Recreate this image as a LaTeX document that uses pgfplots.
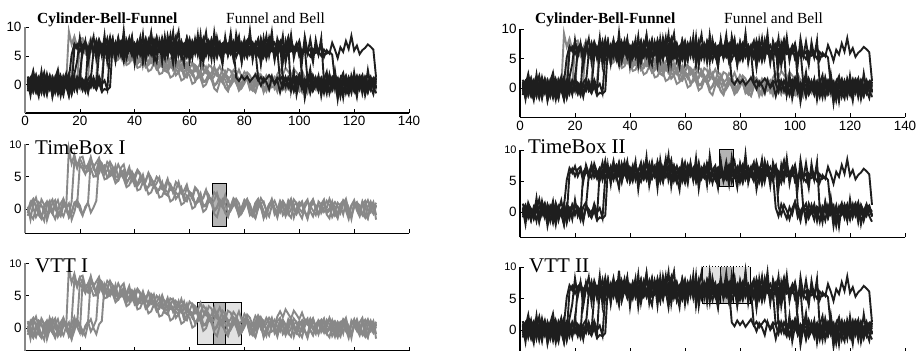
\documentclass[border=0pt]{standalone}
\usepackage{fontspec}
\setmainfont{Liberation Serif}
\newfontfamily\tickfont{Liberation Sans}
\usepackage{pgfplots}
\usepackage{pgfplotstable}
\pgfplotsset{compat=1.18}
\definecolor{cgray}{RGB}{136,136,136}
\definecolor{cblk}{RGB}{30,30,30}
\definecolor{boxdark}{RGB}{180,180,180}
\definecolor{boxlight}{RGB}{226,226,226}

% ---- gray series (funnel-like) ----
\pgfplotstableread[row sep=\\]{y\\
0.4\\ -1.6\\ 0.9\\ 1.8\\ 0.2\\ -0.9\\ -1.8\\ 0.6\\ 1.3\\ -0.4\\
0.8\\ -1.2\\ -0.3\\ 1.5\\ 0.1\\ 9.3\\ 7.0\\ 8.4\\ 6.6\\ 7.9\\
8.1\\ 6.4\\ 6.9\\ 8.0\\ 6.1\\ 5.9\\ 7.6\\ 7.1\\ 5.4\\ 6.0\\
7.3\\ 6.5\\ 5.1\\ 4.9\\ 6.4\\ 6.9\\ 5.0\\ 5.8\\ 4.3\\ 5.2\\
6.1\\ 5.5\\ 3.9\\ 4.2\\ 5.6\\ 4.8\\ 3.4\\ 4.0\\ 4.9\\ 3.1\\
2.8\\ 4.3\\ 3.9\\ 2.5\\ 3.0\\ 4.2\\ 2.7\\ 1.9\\ 3.3\\ 2.4\\
1.6\\ 3.1\\ 2.8\\ 1.2\\ 1.7\\ 2.9\\ 2.2\\ 0.8\\ 1.4\\ 2.5\\
1.0\\ 0.3\\ 1.8\\ 1.3\\ -0.2\\ 0.6\\ 1.6\\ 0.9\\ -0.6\\ 0.2\\
1.4\\ 0.8\\ -0.5\\ -1.3\\ 0.4\\ 1.7\\ 0.9\\ -0.2\\ 0.3\\ 1.1\\
-0.8\\ -0.1\\ 1.3\\ 0.5\\ -1.0\\ 0.7\\ 1.6\\ 0.0\\ -0.7\\ 0.6\\
1.2\\ -0.4\\ -1.5\\ 0.2\\ 1.0\\ 0.4\\ -0.9\\ 0.8\\ 1.5\\ -0.3\\
0.1\\ 1.2\\ -0.6\\ -1.4\\ 0.5\\ 1.1\\ 0.3\\ -0.8\\ 0.6\\ 1.4\\
-0.2\\ -1.1\\ 0.7\\ 1.3\\ 0.0\\ -0.5\\ 0.9\\ -1.6\\
}\Ga
\pgfplotstableread[row sep=\\]{y\\
-0.6\\ 1.1\\ 0.3\\ -1.2\\ -0.4\\ 1.5\\ 0.7\\ -1.7\\ -0.2\\ 0.9\\
1.4\\ -0.5\\ -1.1\\ 0.6\\ 0.2\\ -0.9\\ 1.2\\ 7.6\\ 6.3\\ 7.8\\
6.9\\ 5.6\\ 5.9\\ 7.4\\ 6.8\\ 5.1\\ 5.5\\ 6.9\\ 6.4\\ 4.8\\
5.2\\ 6.3\\ 4.6\\ 4.4\\ 5.9\\ 5.4\\ 3.9\\ 4.8\\ 5.3\\ 3.6\\
3.9\\ 5.0\\ 4.4\\ 3.0\\ 3.4\\ 4.6\\ 3.8\\ 2.6\\ 3.0\\ 4.0\\
2.4\\ 2.1\\ 3.5\\ 3.0\\ 1.6\\ 2.2\\ 3.3\\ 1.4\\ 1.2\\ 2.7\\
2.3\\ 0.9\\ 1.3\\ 2.4\\ 0.5\\ 0.8\\ 1.9\\ 1.5\\ -0.2\\ 0.4\\
1.5\\ 0.9\\ -0.4\\ -1.1\\ 0.3\\ 1.2\\ 0.6\\ -0.7\\ 0.1\\ 1.4\\
0.8\\ -0.9\\ -0.3\\ 1.0\\ 1.6\\ 0.2\\ -1.2\\ -0.5\\ 0.7\\ 1.1\\
-0.1\\ -1.3\\ 0.4\\ 1.3\\ 0.6\\ -0.8\\ 0.0\\ 1.5\\ 0.9\\ -0.6\\
-1.4\\ 0.3\\ 1.1\\ 0.5\\ -0.2\\ -0.9\\ 1.2\\ 0.7\\ -0.4\\ 0.2\\
1.6\\ 0.4\\ -1.0\\ -0.5\\ 0.8\\ 1.3\\ -0.2\\ -1.5\\ 0.6\\ 1.0\\
0.1\\ -0.8\\ 1.2\\ 0.5\\ -1.2\\ 0.3\\ 1.1\\ -0.9\\
}\Gb
\pgfplotstableread[row sep=\\]{y\\
0.9\\ -0.5\\ -1.3\\ 0.4\\ 1.2\\ 0.7\\ -0.8\\ -0.2\\ 1.6\\ 0.3\\
-1.2\\ -0.4\\ 0.8\\ 1.3\\ -0.1\\ -0.9\\ 0.5\\ 1.7\\ 0.2\\ -0.7\\
7.2\\ 6.0\\ 5.5\\ 7.0\\ 6.7\\ 5.2\\ 5.8\\ 7.1\\ 6.2\\ 4.9\\
5.3\\ 6.6\\ 5.9\\ 4.5\\ 4.9\\ 6.2\\ 5.5\\ 4.2\\ 5.0\\ 5.9\\
4.1\\ 3.9\\ 5.3\\ 4.8\\ 3.5\\ 4.1\\ 5.2\\ 3.6\\ 3.3\\ 4.7\\
4.2\\ 2.9\\ 3.4\\ 4.5\\ 3.7\\ 2.6\\ 3.1\\ 4.1\\ 2.4\\ 2.7\\
3.8\\ 3.3\\ 1.9\\ 2.3\\ 3.5\\ 2.9\\ 1.6\\ 2.1\\ 3.2\\ 1.5\\
1.3\\ 2.7\\ 2.2\\ 0.9\\ 1.4\\ 2.5\\ 1.9\\ 0.6\\ 1.1\\ 2.2\\
1.5\\ 0.3\\ 0.7\\ 1.9\\ 1.2\\ -0.1\\ 0.4\\ 1.6\\ 0.8\\ -0.5\\
-0.2\\ 1.1\\ 1.6\\ 0.4\\ -0.9\\ 0.2\\ 1.3\\ 0.7\\ -0.6\\ -1.2\\
0.5\\ 1.4\\ 0.9\\ -0.3\\ -1.0\\ 0.6\\ 1.2\\ 0.1\\ -0.7\\ 0.8\\
1.5\\ -0.1\\ -1.3\\ 0.3\\ 1.0\\ 0.6\\ -0.5\\ -0.9\\ 1.2\\ 0.4\\
-0.4\\ 0.9\\ 1.6\\ -0.2\\ -1.1\\ 0.5\\ 0.2\\ 0.8\\
}\Gc
\pgfplotstableread[row sep=\\]{y\\
-0.2\\ 1.0\\ 1.6\\ 0.3\\ -0.9\\ -1.5\\ 0.5\\ 1.2\\ -0.1\\ -0.7\\
0.6\\ 1.4\\ -0.3\\ -1.1\\ 0.2\\ 0.9\\ -1.6\\ -0.4\\ 1.3\\ 0.6\\
-0.8\\ 0.1\\ 1.1\\ 7.8\\ 6.5\\ 7.2\\ 7.9\\ 6.0\\ 5.9\\ 7.3\\
6.8\\ 5.3\\ 5.7\\ 6.9\\ 5.9\\ 4.8\\ 5.4\\ 6.5\\ 4.7\\ 4.6\\
5.8\\ 5.3\\ 4.0\\ 4.5\\ 5.5\\ 3.7\\ 3.9\\ 5.0\\ 4.5\\ 3.2\\
3.6\\ 4.7\\ 3.0\\ 2.8\\ 4.2\\ 3.7\\ 2.4\\ 2.9\\ 3.8\\ 2.1\\
2.0\\ 3.4\\ 2.9\\ 1.5\\ 1.9\\ 3.0\\ 1.2\\ 1.4\\ 2.6\\ 2.1\\
0.7\\ 1.0\\ 2.2\\ 0.4\\ 0.5\\ 1.7\\ 1.2\\ -0.2\\ 0.3\\ 1.4\\
0.8\\ -0.6\\ -1.1\\ 0.4\\ 1.3\\ 0.9\\ -0.3\\ -1.2\\ 0.5\\ 1.6\\
0.2\\ -0.5\\ 1.0\\ -0.9\\ -0.2\\ 1.4\\ 0.7\\ -1.3\\ 0.1\\ 1.1\\
0.6\\ -0.4\\ -1.0\\ 0.9\\ 1.5\\ 0.3\\ -0.7\\ 0.0\\ 1.2\\ -0.8\\
-1.4\\ 0.5\\ 1.1\\ 0.4\\ -0.6\\ 0.8\\ 1.6\\ -0.2\\ -1.0\\ 0.3\\
1.0\\ 0.6\\ -0.7\\ -1.3\\ 0.4\\ 1.2\\ -0.1\\ 0.7\\
}\Gd
\pgfplotstableread[row sep=\\]{y\\
0.3\\ -0.9\\ -1.5\\ 0.2\\ 1.1\\ 0.6\\ -0.4\\ -1.2\\ 0.8\\ 1.5\\
0.1\\ -0.7\\ -0.2\\ 1.2\\ 0.5\\ -1.3\\ -0.6\\ 0.9\\ 1.4\\ -0.1\\
-1.0\\ 0.4\\ 1.0\\ -0.5\\ 0.3\\ 1.3\\ 7.3\\ 5.9\\ 6.8\\ 6.6\\
5.1\\ 5.4\\ 6.7\\ 4.8\\ 5.6\\ 6.0\\ 4.3\\ 4.7\\ 5.8\\ 4.9\\
3.6\\ 4.2\\ 5.3\\ 3.4\\ 3.5\\ 4.7\\ 4.1\\ 2.7\\ 3.2\\ 4.2\\
2.4\\ 2.3\\ 3.7\\ 3.1\\ 1.7\\ 2.1\\ 3.2\\ 1.4\\ 1.3\\ 2.6\\
2.2\\ 0.7\\ 1.1\\ 2.3\\ 0.4\\ 0.5\\ 1.7\\ 1.2\\ -0.3\\ 0.2\\
1.3\\ 0.7\\ -0.6\\ -1.2\\ 0.5\\ 1.1\\ 0.2\\ -0.9\\ -0.3\\ 1.0\\
1.6\\ 0.4\\ -0.8\\ -1.4\\ 0.1\\ 0.9\\ 1.2\\ -0.2\\ -1.1\\ 0.6\\
1.3\\ 0.2\\ -0.5\\ 0.8\\ -1.0\\ -0.2\\ 1.4\\ 0.5\\ -0.7\\ 0.3\\
1.1\\ -0.4\\ -1.3\\ 0.6\\ 1.5\\ 0.0\\ -0.8\\ 0.7\\ 1.2\\ -0.6\\
-0.2\\ 1.0\\ 0.4\\ -1.2\\ 0.3\\ 1.4\\ 0.8\\ -0.5\\ -1.0\\ 0.9\\
0.5\\ -0.3\\ 1.1\\ -0.9\\ -1.5\\ 0.6\\ 0.2\\ 1.0\\
}\Ge
\pgfplotstableread[row sep=\\]{y\\
1.1\\ 0.2\\ -0.8\\ -1.4\\ 0.5\\ 1.3\\ 0.6\\ -1.0\\ -0.3\\ 0.8\\
1.5\\ -0.2\\ -1.1\\ 0.4\\ 0.9\\ -0.6\\ -1.7\\ 0.3\\ 1.2\\ 0.5\\
-0.4\\ -1.2\\ 0.7\\ 1.4\\ 0.0\\ -0.9\\ 0.6\\ 1.1\\ 6.7\\ 5.5\\
5.0\\ 6.4\\ 6.1\\ 4.7\\ 5.2\\ 6.3\\ 4.9\\ 4.4\\ 5.8\\ 5.5\\
4.1\\ 4.6\\ 5.7\\ 4.3\\ 3.9\\ 5.3\\ 4.8\\ 3.5\\ 4.0\\ 5.1\\
3.8\\ 3.2\\ 4.6\\ 4.3\\ 2.9\\ 3.3\\ 4.5\\ 3.0\\ 2.7\\ 4.1\\
3.6\\ 2.3\\ 2.8\\ 3.9\\ 2.5\\ 2.0\\ 3.4\\ 3.0\\ 1.7\\ 2.2\\
3.2\\ 2.0\\ 1.4\\ 2.7\\ 2.4\\ 1.0\\ 1.5\\ 2.6\\ 1.3\\ 0.8\\
2.1\\ 1.6\\ 0.4\\ 1.0\\ 2.0\\ 1.3\\ 0.1\\ 0.7\\ 1.6\\ 0.9\\
0.3\\ 1.8\\ 2.6\\ 1.7\\ 2.9\\ 2.2\\ 1.5\\ 2.7\\ 2.1\\ 1.4\\
2.4\\ 1.2\\ 0.6\\ 1.5\\ 0.3\\ -0.5\\ 0.8\\ 1.3\\ -0.2\\ -0.9\\
0.4\\ 1.2\\ 0.7\\ -0.6\\ -1.3\\ 0.5\\ 1.0\\ 0.2\\ -0.8\\ 0.6\\
1.4\\ -0.1\\ -1.0\\ 0.3\\ 0.9\\ 0.5\\ -0.6\\ 0.2\\
}\Gf
\pgfplotstableread[row sep=\\]{y\\
-1.0\\ 0.4\\ 1.4\\ 0.6\\ -0.5\\ -1.3\\ 0.2\\ 1.1\\ 0.8\\ -0.6\\
-1.5\\ 0.0\\ 0.9\\ 1.6\\ 0.3\\ -0.8\\ -0.4\\ 1.0\\ 0.5\\ 7.0\\
6.2\\ 5.4\\ 6.8\\ 6.3\\ 5.0\\ 5.2\\ 6.5\\ 5.9\\ 4.6\\ 4.8\\
5.9\\ 5.3\\ 4.0\\ 4.4\\ 5.4\\ 4.7\\ 3.4\\ 3.7\\ 4.8\\ 4.3\\
2.9\\ 3.1\\ 4.2\\ 3.6\\ 2.3\\ 2.6\\ 3.7\\ 3.2\\ 1.8\\ 2.0\\
3.1\\ 2.6\\ 1.2\\ 1.5\\ 2.6\\ 2.1\\ 0.7\\ 1.0\\ 2.1\\ 1.6\\
0.1\\ 0.4\\ 1.6\\ 1.1\\ -0.4\\ 0.0\\ 1.3\\ 0.9\\ -0.7\\ -1.2\\
0.4\\ 1.5\\ 0.8\\ -0.5\\ -0.1\\ 1.2\\ 0.6\\ -1.1\\ -0.6\\ 0.9\\
1.4\\ 0.2\\ -0.9\\ -0.3\\ 1.1\\ 0.7\\ -1.4\\ -0.2\\ 0.8\\ 1.3\\
0.0\\ -1.0\\ 0.5\\ 1.2\\ 0.3\\ -0.7\\ -1.3\\ 0.6\\ 1.0\\ 0.1\\
-0.5\\ 0.9\\ 1.5\\ -0.3\\ -1.1\\ 0.4\\ 0.8\\ -0.6\\ 0.2\\ 1.3\\
0.6\\ -1.2\\ -0.4\\ 1.0\\ 0.5\\ -0.8\\ 1.2\\ 0.3\\ -1.5\\ 0.7\\
1.1\\ -0.2\\ -0.9\\ 0.6\\ 1.4\\ 0.1\\ -0.7\\ 0.5\\
}\Gg

% ---- black series (cylinder-like) ----
\pgfplotstableread[row sep=\\]{y\\
0.8\\ -0.6\\ 1.2\\ 0.3\\ -1.1\\ 0.5\\ 2.1\\ -0.4\\ 0.9\\ -1.5\\
0.2\\ 1.4\\ -0.8\\ 0.6\\ -0.3\\ 1.0\\ 5.2\\ 7.1\\ 6.3\\ 7.4\\
5.8\\ 6.9\\ 4.9\\ 7.6\\ 6.2\\ 5.5\\ 7.8\\ 6.4\\ 5.1\\ 6.8\\
7.3\\ 5.6\\ 6.1\\ 8.2\\ 5.4\\ 6.7\\ 4.8\\ 7.0\\ 6.3\\ 5.9\\
7.5\\ 5.2\\ 6.6\\ 8.0\\ 5.7\\ 6.4\\ 4.6\\ 7.2\\ 6.0\\ 5.3\\
7.7\\ 6.2\\ 5.6\\ 6.9\\ 8.4\\ 5.1\\ 6.5\\ 7.1\\ 4.9\\ 6.3\\
7.4\\ 5.8\\ 6.6\\ 5.0\\ 7.3\\ 6.1\\ 5.5\\ 7.9\\ 6.4\\ 4.7\\
6.8\\ 7.2\\ 5.6\\ 6.0\\ 8.1\\ 5.4\\ 6.7\\ 5.9\\ 7.0\\ 4.8\\
6.5\\ 7.6\\ 5.3\\ 6.2\\ 7.4\\ 5.7\\ 6.9\\ 4.5\\ 6.3\\ 7.8\\
5.6\\ 6.4\\ 7.1\\ 5.0\\ 6.6\\ 8.3\\ 5.8\\ 6.1\\ 7.2\\ 4.9\\
5.6\\ 6.8\\ 5.3\\ 7.9\\ 5.0\\ 6.4\\ 5.2\\ 7.1\\ 4.8\\ 6.0\\
5.4\\ 7.3\\ 6.1\\ 4.6\\ 6.5\\ 5.7\\ 7.6\\ 6.2\\ 8.5\\ 5.9\\
6.8\\ 5.3\\ 6.0\\ 6.4\\ 7.0\\ 6.6\\ 6.1\\ 1.2\\
}\Ba
\pgfplotstableread[row sep=\\]{y\\
-0.5\\ 1.1\\ 0.2\\ -1.3\\ 0.7\\ 1.6\\ -0.2\\ 0.4\\ -0.9\\ 1.3\\
0.1\\ -1.7\\ 0.8\\ 0.3\\ 1.9\\ -0.6\\ 0.5\\ -1.0\\ 1.2\\ 0.0\\
0.6\\ -0.8\\ 6.4\\ 7.2\\ 5.5\\ 6.8\\ 7.5\\ 5.9\\ 6.2\\ 8.0\\
5.3\\ 6.6\\ 7.0\\ 5.8\\ 6.3\\ 7.7\\ 5.1\\ 6.5\\ 6.9\\ 5.6\\
7.2\\ 6.0\\ 4.9\\ 6.8\\ 7.4\\ 5.5\\ 6.2\\ 8.1\\ 5.7\\ 6.4\\
5.0\\ 7.0\\ 6.3\\ 5.8\\ 7.6\\ 6.1\\ 4.8\\ 6.7\\ 7.3\\ 5.4\\
6.2\\ 7.8\\ 5.9\\ 6.5\\ 4.6\\ 7.1\\ 6.0\\ 5.7\\ 8.0\\ 6.3\\
5.2\\ 6.9\\ 7.4\\ 5.8\\ 6.1\\ 4.9\\ 7.2\\ 6.6\\ 5.5\\ 6.8\\
7.7\\ 5.3\\ 6.4\\ 6.0\\ 5.0\\ 7.3\\ 6.7\\ 5.6\\ 8.2\\ 6.1\\
5.4\\ 6.9\\ 7.5\\ 5.9\\ 4.7\\ 6.5\\ 7.0\\ 5.8\\ 6.3\\ 7.6\\
5.2\\ 6.4\\ 0.8\\ -0.7\\ 1.4\\ 0.2\\ -1.2\\ 0.9\\ 0.4\\ -0.5\\
1.6\\ -0.9\\ 0.3\\ 1.1\\ -1.8\\ 0.6\\ -0.2\\ 1.3\\ 0.0\\ -1.0\\
0.7\\ 1.5\\ -0.4\\ 0.9\\ -1.3\\ 0.5\\ 1.0\\ -0.6\\
}\Bb
\pgfplotstableread[row sep=\\]{y\\
1.4\\ -0.3\\ 0.6\\ -1.2\\ 0.9\\ 0.1\\ -0.7\\ 1.8\\ -0.2\\ 0.5\\
-1.4\\ 0.8\\ 1.2\\ -0.5\\ 0.3\\ -1.9\\ 1.0\\ 0.4\\ -0.8\\ 1.5\\
-0.1\\ 0.7\\ -1.1\\ 0.9\\ 5.9\\ 7.3\\ 6.6\\ 5.4\\ 7.0\\ 6.1\\
8.3\\ 5.7\\ 6.4\\ 5.2\\ 7.1\\ 6.8\\ 5.5\\ 6.0\\ 7.9\\ 5.3\\
6.6\\ 7.2\\ 5.8\\ 4.9\\ 6.5\\ 7.6\\ 6.2\\ 5.4\\ 6.9\\ 7.3\\
5.6\\ 6.0\\ 8.6\\ 5.1\\ 6.7\\ 6.3\\ 7.4\\ 5.5\\ 6.1\\ 4.7\\
7.0\\ 6.5\\ 5.9\\ 7.8\\ 5.3\\ 6.4\\ 6.9\\ 5.0\\ 7.5\\ 6.2\\
5.7\\ 6.6\\ 7.9\\ 5.2\\ 6.3\\ 7.0\\ 4.8\\ 6.1\\ 7.3\\ 5.8\\
6.5\\ 5.4\\ 7.2\\ 6.0\\ 5.6\\ 8.1\\ 6.4\\ 5.1\\ 6.8\\ 7.1\\
5.5\\ 6.3\\ 7.4\\ 0.9\\ -0.4\\ 1.2\\ 0.3\\ -1.1\\ 0.6\\ 1.7\\
-0.8\\ 0.2\\ 1.0\\ -1.5\\ 0.5\\ -0.1\\ 1.3\\ -0.9\\ 0.7\\ 0.1\\
-1.3\\ 1.1\\ -0.3\\ 0.8\\ -2.1\\ 0.4\\ 1.5\\ -0.6\\ 0.2\\ -1.2\\
0.9\\ -0.2\\ 1.4\\ 0.0\\ -0.9\\ 0.6\\ 1.1\\ -0.7\\
}\Bc
\pgfplotstableread[row sep=\\]{y\\
0.2\\ -1.0\\ 1.3\\ 0.6\\ -0.4\\ 1.7\\ -1.3\\ 0.1\\ 0.8\\ -0.6\\
1.1\\ 0.3\\ -2.0\\ 0.7\\ -0.1\\ 1.4\\ -0.9\\ 0.5\\ 1.0\\ -0.3\\
0.4\\ -1.2\\ 0.9\\ 1.6\\ -0.5\\ 0.2\\ 0.7\\ -0.8\\ 6.7\\ 5.6\\
7.4\\ 6.1\\ 5.3\\ 6.9\\ 7.6\\ 5.8\\ 6.2\\ 8.1\\ 5.5\\ 6.6\\
5.0\\ 7.0\\ 6.4\\ 5.7\\ 7.8\\ 6.1\\ 5.4\\ 6.8\\ 7.2\\ 5.9\\
6.3\\ 4.8\\ 7.5\\ 6.0\\ 5.6\\ 6.9\\ 7.3\\ 5.2\\ 6.5\\ 8.0\\
5.8\\ 6.2\\ 7.1\\ 4.9\\ 6.7\\ 5.5\\ 7.6\\ 6.3\\ 5.9\\ 6.8\\
7.5\\ 5.1\\ 6.4\\ 6.0\\ 7.2\\ 5.6\\ 6.9\\ 8.2\\ 5.3\\ 6.1\\
4.7\\ 6.6\\ 7.3\\ 5.8\\ 6.2\\ 7.0\\ 5.4\\ 6.5\\ 7.7\\ 5.9\\
6.3\\ 5.0\\ 7.1\\ 6.6\\ 5.7\\ 8.0\\ 6.1\\ 5.5\\ 6.8\\ 7.2\\
1.1\\ -0.3\\ 0.6\\ 1.4\\ -0.9\\ 0.2\\ 0.8\\ -1.4\\ 1.2\\ -0.1\\
0.5\\ -0.7\\ 1.8\\ 0.3\\ -1.1\\ 0.9\\ -0.4\\ 0.1\\ 1.3\\ -0.8\\
0.4\\ 1.0\\ -1.6\\ 0.7\\ -0.2\\ 1.2\\ 0.3\\ -0.5\\
}\Bd
\pgfplotstableread[row sep=\\]{y\\
-0.8\\ 0.4\\ 1.0\\ -0.2\\ 0.6\\ -1.4\\ 0.9\\ 1.3\\ -0.5\\ 0.2\\
0.7\\ -1.0\\ 1.5\\ 0.1\\ -0.6\\ 0.8\\ -1.7\\ 0.3\\ 1.2\\ -0.4\\
0.9\\ 0.2\\ -0.9\\ 1.1\\ 0.5\\ -0.3\\ 1.4\\ 0.0\\ 0.7\\ -0.9\\
5.7\\ 6.8\\ 7.2\\ 5.5\\ 6.3\\ 7.9\\ 5.9\\ 6.6\\ 5.2\\ 7.0\\
6.1\\ 7.5\\ 5.6\\ 6.4\\ 6.9\\ 5.3\\ 7.3\\ 6.0\\ 5.8\\ 8.2\\
6.5\\ 5.1\\ 6.7\\ 7.4\\ 5.9\\ 6.2\\ 4.9\\ 7.1\\ 6.8\\ 5.4\\
7.6\\ 6.3\\ 5.7\\ 6.0\\ 8.0\\ 5.5\\ 6.6\\ 7.2\\ 5.0\\ 6.4\\
6.9\\ 5.8\\ 7.4\\ 6.1\\ 5.3\\ 6.7\\ 7.0\\ 5.6\\ 6.3\\ 7.8\\
5.2\\ 6.5\\ 6.0\\ 7.3\\ 5.7\\ 6.8\\ 4.8\\ 6.2\\ 7.5\\ 6.0\\
5.5\\ 7.0\\ 6.4\\ 5.8\\ 6.9\\ 5.1\\ 7.6\\ 6.3\\ 5.9\\ 6.6\\
5.3\\ 6.0\\ 5.6\\ 4.9\\ 6.2\\ 5.5\\ 5.8\\ 5.0\\ 6.1\\ 5.4\\
5.7\\ 5.2\\ 0.6\\ -0.5\\ 1.1\\ -1.2\\ 0.3\\ 0.9\\ -0.7\\ 1.4\\
-0.1\\ 0.6\\ -1.0\\ 1.2\\ 0.2\\ -0.6\\ 0.8\\ 0.1\\
}\Be
\pgfplotstableread[row sep=\\]{y\\
0.5\\ 1.2\\ -0.9\\ 0.3\\ -0.2\\ 1.0\\ -1.6\\ 0.6\\ 1.5\\ -0.4\\
0.1\\ -0.8\\ 0.9\\ -1.3\\ 0.4\\ 1.1\\ -0.5\\ 6.2\\ 7.0\\ 5.8\\
6.9\\ 7.3\\ 5.4\\ 6.5\\ 6.1\\ 7.7\\ 5.6\\ 6.3\\ 7.1\\ 5.2\\
6.8\\ 6.0\\ 7.4\\ 5.7\\ 6.2\\ 8.0\\ 5.9\\ 6.5\\ 5.1\\ 7.2\\
6.3\\ 5.6\\ 7.0\\ 6.7\\ 5.3\\ 6.1\\ 7.8\\ 5.5\\ 6.4\\ 6.9\\
5.0\\ 7.3\\ 6.2\\ 5.8\\ 6.6\\ 7.5\\ 5.4\\ 6.0\\ 8.1\\ 5.7\\
6.5\\ 6.9\\ 5.2\\ 7.1\\ 6.3\\ 5.6\\ 6.8\\ 7.4\\ 5.9\\ 6.1\\
5.5\\ 7.0\\ 6.4\\ 5.1\\ 6.7\\ 7.6\\ 5.8\\ 6.2\\ 6.9\\ 5.3\\
7.2\\ 6.0\\ 5.6\\ 6.6\\ 7.9\\ 5.4\\ 6.3\\ 7.0\\ 5.7\\ 6.5\\
7.3\\ 5.9\\ 0.7\\ -0.6\\ 1.3\\ 0.1\\ -1.0\\ 0.8\\ -0.3\\ 1.6\\
0.2\\ -1.4\\ 0.9\\ 0.4\\ -0.7\\ 1.2\\ -0.2\\ 0.6\\ -1.5\\ 1.0\\
0.3\\ -0.8\\ 1.4\\ -2.2\\ 0.5\\ 0.0\\ 1.1\\ -0.9\\ 0.7\\ -0.3\\
1.3\\ -0.6\\ 0.4\\ 0.9\\ -1.1\\ 0.2\\ 0.8\\ -0.4\\
}\Bf
\pgfplotstableread[row sep=\\]{y\\
-0.3\\ 0.9\\ -1.2\\ 0.6\\ 1.4\\ -0.7\\ 0.2\\ -1.8\\ 1.0\\ 0.4\\
-0.5\\ 1.3\\ 0.0\\ -1.1\\ 0.7\\ 1.9\\ -0.4\\ 0.5\\ -0.9\\ 1.2\\
6.6\\ 7.5\\ 6.0\\ 7.2\\ 5.7\\ 6.4\\ 5.3\\ 7.0\\ 6.8\\ 5.9\\
6.3\\ 7.6\\ 5.5\\ 6.1\\ 6.9\\ 5.0\\ 7.4\\ 6.2\\ 5.8\\ 6.7\\
7.1\\ 5.4\\ 6.5\\ 8.0\\ 5.9\\ 6.3\\ 5.2\\ 6.8\\ 7.3\\ 5.6\\
6.0\\ 6.6\\ 7.7\\ 5.3\\ 6.4\\ 5.8\\ 7.0\\ 6.1\\ 5.5\\ 7.4\\
6.2\\ 5.7\\ 6.9\\ 7.2\\ 5.1\\ 6.5\\ 6.0\\ 7.8\\ 5.6\\ 6.3\\
6.7\\ 5.4\\ 7.1\\ 6.2\\ 5.9\\ 6.6\\ 1.2\\ 0.6\\ 1.5\\ 0.8\\
1.4\\ 0.5\\ 1.1\\ 1.7\\ 0.7\\ 1.3\\ 0.4\\ 1.0\\ 1.6\\ 0.9\\
0.3\\ 1.2\\ 0.8\\ 1.5\\ 0.6\\ 1.1\\ 0.2\\ 0.9\\ 1.4\\ 0.5\\
1.0\\ -0.3\\ 0.7\\ 1.3\\ -0.6\\ 0.8\\ 0.2\\ 1.1\\ -0.9\\ 0.6\\
1.4\\ -0.4\\ 0.3\\ 0.9\\ -1.3\\ 0.5\\ 1.2\\ -0.2\\ 0.7\\ -0.8\\
1.0\\ 0.4\\ -0.5\\ 1.3\\ 0.1\\ -1.0\\ 0.6\\ 1.5\\
}\Bg
\pgfplotstableread[row sep=\\]{y\\
1.0\\ -0.4\\ 0.3\\ 1.6\\ -1.1\\ 0.7\\ 0.0\\ -0.6\\ 1.3\\ -1.9\\
0.6\\ 0.2\\ -0.7\\ 1.4\\ 0.5\\ -1.2\\ 0.8\\ 1.1\\ -0.3\\ 0.4\\
-1.0\\ 0.9\\ 0.3\\ -0.5\\ 1.2\\ -0.2\\ 5.5\\ 6.9\\ 7.3\\ 5.8\\
6.4\\ 5.3\\ 7.0\\ 6.7\\ 5.6\\ 7.4\\ 6.1\\ 5.9\\ 6.8\\ 5.2\\
7.5\\ 6.3\\ 5.7\\ 6.0\\ 7.1\\ 5.4\\ 6.6\\ 8.3\\ 5.8\\ 6.2\\
6.9\\ 5.1\\ 7.2\\ 6.5\\ 5.6\\ 6.1\\ 7.6\\ 5.9\\ 4.8\\ 6.7\\
7.0\\ 6.2\\ 5.5\\ 6.8\\ 7.3\\ 5.0\\ 6.4\\ 6.0\\ 7.7\\ 5.8\\
6.3\\ 5.6\\ 6.9\\ 7.2\\ 5.4\\ 6.6\\ 6.0\\ 7.5\\ 5.3\\ 6.1\\
6.8\\ 5.9\\ 7.0\\ 6.2\\ 0.9\\ -0.2\\ 1.1\\ 0.4\\ -0.8\\ 1.3\\
0.0\\ 0.7\\ -1.4\\ 0.5\\ 1.0\\ -0.5\\ 0.8\\ -1.0\\ 1.2\\ 0.3\\
-0.6\\ 0.9\\ 0.2\\ -1.3\\ 1.5\\ 0.1\\ -0.4\\ 0.7\\ 1.0\\ -0.9\\
0.4\\ 1.2\\ -0.7\\ 0.6\\ -0.2\\ 1.1\\ -1.5\\ 0.3\\ 0.8\\ -0.1\\
1.4\\ -0.8\\ 0.5\\ 0.2\\ -1.2\\ 0.9\\ 0.0\\ 0.6\\
}\Bh
\pgfplotstableread[row sep=\\]{y\\
-1.2\\ 0.5\\ 2.4\\ -0.3\\ -2.1\\ 0.9\\ 1.7\\ -0.8\\ 0.2\\ -1.6\\
1.1\\ 2.6\\ -0.5\\ -1.9\\ 0.7\\ 0.0\\ -1.3\\ 1.8\\ 4.1\\ 8.2\\
5.3\\ 7.6\\ 3.8\\ 6.5\\ 8.4\\ 4.4\\ 7.3\\ 5.0\\ 8.6\\ 3.9\\
6.9\\ 8.1\\ 4.2\\ 7.6\\ 5.1\\ 9.4\\ 4.6\\ 6.3\\ 8.4\\ 3.7\\
7.2\\ 5.5\\ 8.8\\ 4.3\\ 6.7\\ 9.0\\ 5.2\\ 3.9\\ 7.8\\ 6.0\\
4.5\\ 8.5\\ 6.2\\ 3.6\\ 7.4\\ 9.3\\ 4.8\\ 6.6\\ 8.0\\ 4.1\\
7.0\\ 5.4\\ 8.7\\ 3.8\\ 6.8\\ 9.1\\ 5.0\\ 7.5\\ 4.4\\ 8.2\\
5.9\\ 3.5\\ 7.7\\ 6.1\\ 9.0\\ 4.7\\ 6.4\\ 8.3\\ 3.9\\ 7.1\\
5.6\\ 8.9\\ 4.3\\ 6.9\\ 7.6\\ 3.6\\ 8.1\\ 5.3\\ 6.2\\ 9.2\\
4.6\\ 7.4\\ 5.8\\ 8.5\\ 3.8\\ 6.7\\ -0.9\\ 2.3\\ -1.8\\ 0.6\\
1.9\\ -2.4\\ 0.3\\ 2.7\\ -1.1\\ -0.2\\ 1.5\\ -2.0\\ 0.8\\ 2.2\\
-1.5\\ 0.4\\ 1.3\\ -2.6\\ 0.9\\ 2.0\\ -0.7\\ -1.8\\ 1.6\\ 0.1\\
-2.2\\ 1.4\\ 0.6\\ -1.0\\ 2.5\\ -0.4\\ -1.7\\ 1.1\\
}\Bi
\pgfplotstableread[row sep=\\]{y\\
0.6\\ -1.9\\ 1.5\\ 0.2\\ -0.7\\ 2.3\\ -1.0\\ 0.4\\ 1.2\\ -2.2\\
0.0\\ 1.8\\ -1.4\\ 0.9\\ -0.3\\ -2.0\\ 1.3\\ 0.7\\ -1.1\\ 2.0\\
-0.6\\ 0.5\\ -1.5\\ 1.0\\ -0.2\\ -0.9\\ 0.3\\ -1.3\\ -0.8\\ -1.0\\
-0.5\\ 7.4\\ 4.5\\ 7.9\\ 5.9\\ 3.9\\ 7.8\\ 6.4\\ 8.2\\ 4.8\\
6.0\\ 8.2\\ 3.7\\ 7.1\\ 5.6\\ 8.9\\ 4.3\\ 6.8\\ 7.5\\ 3.9\\
8.4\\ 5.5\\ 6.6\\ 9.2\\ 4.2\\ 7.3\\ 5.7\\ 3.6\\ 8.0\\ 6.5\\
4.6\\ 7.9\\ 5.2\\ 8.7\\ 3.8\\ 6.9\\ 7.4\\ 4.4\\ 9.1\\ 5.8\\
6.2\\ 3.9\\ 8.3\\ 5.1\\ 7.0\\ 4.5\\ 8.8\\ 6.3\\ 4.0\\ 7.7\\
5.4\\ 9.3\\ 4.7\\ 6.6\\ 7.9\\ 3.7\\ 6.1\\ 8.5\\ 5.0\\ 7.2\\
4.3\\ 8.0\\ 6.4\\ 3.8\\ 7.6\\ 5.5\\ 8.7\\ 4.6\\ 6.9\\ 7.3\\
4.0\\ 8.4\\ 5.7\\ 6.2\\ 3.9\\ 7.8\\ 5.3\\ 8.1\\ 0.4\\ -1.6\\
1.7\\ -0.5\\ 2.4\\ -1.2\\ 0.8\\ -2.3\\ 1.1\\ 0.3\\ -1.4\\ 2.1\\
-0.8\\ 0.5\\ 1.6\\ -1.9\\ 0.2\\ 1.3\\ -0.6\\ -1.5\\
}\Bj

\newcommand\PL[2]{\addplot[#1] table[x expr=\coordindex+1, y=y]{#2};}
\newcommand\allgray{\PL{gl}{\Ga}\PL{gl}{\Gb}\PL{gl}{\Gc}\PL{gl}{\Gd}\PL{gl}{\Ge}\PL{gl}{\Gf}\PL{gl}{\Gg}}
\newcommand\allblack{\PL{bl}{\Ba}\PL{bl}{\Bb}\PL{bl}{\Bc}\PL{bl}{\Bd}\PL{bl}{\Be}\PL{bl}{\Bf}\PL{bl}{\Bg}\PL{bl}{\Bh}\PL{bl}{\Bi}\PL{bl}{\Bj}}

\pgfplotsset{
  panel/.style={scale only axis, anchor=south west, clip=false,
    xmin=0, xmax=140, ymax=10,
    axis x line*=bottom, axis y line*=left,
    axis line style={line width=1.1bp, black},
    tick align=inside, major tick length=4bp,
    tick style={black, line width=0.7bp},
    xtick={0,20,...,140}, ytick={0,5,10},
    tick label style={font=\tickfont\fontsize{13.5}{14}\selectfont},
    /pgf/number format/assume math mode=true,
  },
  lowpanel/.style={xticklabels={}, yticklabels={0,5,{\fontsize{11}{11}\selectfont 10}}},
  gl/.style={cgray, line width=1.9bp, forget plot},
  bl/.style={cblk, line width=1.9bp, forget plot},
  bx/.style={black, line width=1bp, forget plot},
}

\begin{document}
\begin{tikzpicture}
\useasboundingbox (0,0) rectangle (918bp,351bp);

% top left
\begin{axis}[panel, at={(25bp,238bp)}, width=384bp, height=85.7bp, ymin=-5, y axis line style={cgray}]
\allgray
\allblack
\end{axis}
% top right
\begin{axis}[panel, at={(520bp,233.7bp)}, width=385bp, height=88bp, ymin=-5]
\allgray
\allblack
\end{axis}
% middle left: TimeBox I
\begin{axis}[panel, lowpanel, at={(25bp,117.7bp)}, width=384bp, height=89bp, ymin=-3.7, y axis line style={cgray}]
\addplot[bx, fill=boxdark] coordinates {(68.5,-2.6) (73.3,-2.6) (73.3,4) (68.5,4)} -- cycle;
\PL{gl}{\Ga}\PL{gl}{\Gb}\PL{gl}{\Gd}\PL{gl}{\Ge}\PL{gl}{\Gg}
\end{axis}
% middle right: TimeBox II
\begin{axis}[panel, lowpanel, at={(520bp,113.7bp)}, width=385bp, height=87.3bp, ymin=-4]
\addplot[bx, fill=boxdark] coordinates {(72.7,4.2) (77.8,4.2) (77.8,10) (72.7,10)} -- cycle;
\PL{bl}{\Ba}\PL{bl}{\Bb}\PL{bl}{\Bc}\PL{bl}{\Bd}\PL{bl}{\Be}\PL{bl}{\Bf}\PL{bl}{\Bj}
\end{axis}
% bottom left: VTT I
\begin{axis}[panel, lowpanel, at={(25bp,0bp)}, width=384bp, height=87.7bp, ymin=-3.5, y axis line style={cgray}]
\addplot[bx, fill=boxlight] coordinates {(63,-2.5) (68.6,-2.5) (68.6,4) (63,4)} -- cycle;
\addplot[bx, fill=boxdark] coordinates {(68.6,-2.5) (73.2,-2.5) (73.2,4) (68.6,4)} -- cycle;
\addplot[bx, fill=boxlight] coordinates {(73.2,-2.5) (78.9,-2.5) (78.9,4) (73.2,4)} -- cycle;
\allgray
\end{axis}
% bottom right: VTT II
\begin{axis}[panel, lowpanel, at={(520bp,-1bp)}, width=385bp, height=85bp, ymin=-3.5]
\addplot[forget plot, draw=none, fill=boxlight] coordinates {(66.5,4.2) (73,4.2) (73,10) (66.5,10)} -- cycle;
\addplot[forget plot, draw=none, fill=boxdark] coordinates {(73,4.2) (77.8,4.2) (77.8,10) (73,10)} -- cycle;
\addplot[forget plot, draw=none, fill=boxlight] coordinates {(77.8,4.2) (83.8,4.2) (83.8,10) (77.8,10)} -- cycle;
\addplot[bx] coordinates {(66.5,10) (66.5,4.2) (83.8,4.2) (83.8,10)};
\addplot[bx] coordinates {(73,4.2) (73,10)};
\addplot[bx] coordinates {(77.8,4.2) (77.8,10)};
\addplot[bx, dash pattern=on 1.5bp off 1.5bp] coordinates {(66.5,10) (83.8,10)};
\allblack
\end{axis}

% titles
\node[anchor=base west, inner sep=0, font=\fontsize{15.5}{16}\selectfont\bfseries] at (37bp,327bp) {Cylinder-Bell-Funnel};
\node[anchor=base west, inner sep=0, font=\fontsize{15.5}{16}\selectfont] at (226bp,327bp) {Funnel and Bell};
\node[anchor=base west, inner sep=0, font=\fontsize{15.5}{16}\selectfont\bfseries] at (535bp,327bp) {Cylinder-Bell-Funnel};
\node[anchor=base west, inner sep=0, font=\fontsize{15.5}{16}\selectfont] at (724bp,327bp) {Funnel and Bell};
\node[anchor=base west, inner sep=0, font=\fontsize{21}{22}\selectfont] at (35bp,196.7bp) {TimeBox I};
\node[anchor=base west, inner sep=0, font=\fontsize{21}{22}\selectfont] at (528bp,197bp) {TimeBox II};
\node[anchor=base west, inner sep=0, font=\fontsize{21}{22}\selectfont] at (35bp,78.7bp) {VTT I};
\node[anchor=base west, inner sep=0, font=\fontsize{21}{22}\selectfont] at (529bp,78.7bp) {VTT II};
\end{tikzpicture}
\end{document}
